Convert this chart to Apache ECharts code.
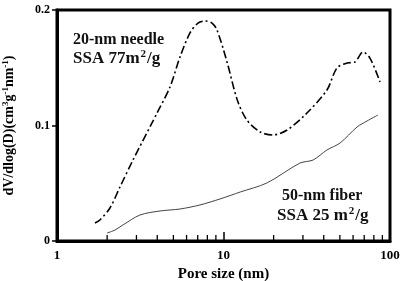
<!DOCTYPE html>
<html>

<head>
  <meta charset="utf-8" />
  <script src="https://cdn.jsdelivr.net/npm/echarts@6/dist/echarts.min.js"></script>
</head>

<body style="margin:0">
  <div id="main" style="width: 400px;height:281px;"></div>
  <script type="text/javascript">
    // pore size (nm) and dV/dlog(D)
    var needleX = [1.69, 1.81, 2.08, 2.39, 2.86, 3.72, 3.99, 4.77, 5.48, 6.29, 7.03, 7.74, 8.53, 9.14, 10.5, 12.1, 13.8, 16.6, 19.8, 24.1, 31.7, 41.8, 48.0, 55.2, 61.6, 68.8, 75.8, 87.1]
    var needleY = [0.0156, 0.0182, 0.0286, 0.0468, 0.0701, 0.1022, 0.1108, 0.1333, 0.1593, 0.1801, 0.1887, 0.1905, 0.1887, 0.1827, 0.155, 0.1221, 0.1048, 0.0944, 0.0918, 0.0961, 0.1108, 0.1307, 0.1498, 0.1541, 0.155, 0.1636, 0.1584, 0.1377]
    var fiberX = [2.0, 2.23, 2.49, 3.15, 4.16, 5.48, 7.22, 9.53, 12.6, 18.2, 28.8, 34.5, 41.8, 50.1, 63.4, 72.8, 84.7]
    var fiberY = [0.0069, 0.0095, 0.0139, 0.0225, 0.026, 0.0277, 0.0312, 0.0364, 0.0424, 0.0502, 0.0675, 0.0701, 0.0788, 0.0848, 0.0987, 0.1039, 0.1091]
    var minorTicks = [2, 3, 4, 5, 6, 7, 8, 9, 20, 30, 40, 50, 60, 70, 80, 90]

    function pairs(xs, ys) {
      return xs.map(function (x, i) { return [x, ys[i]] })
    }

    var serif = '"Liberation Serif", "Times New Roman", serif'
    var myChart = echarts.init(document.getElementById('main'));

    var option = {
      backgroundColor: '#fff',
      animation: false,
      grid: {
        left: 57, right: 10, top: 10, bottom: 40,
        outerBoundsMode: 'none',
        show: true, borderColor: '#000', borderWidth: 3
      },
      xAxis: {
        type: 'log', min: 1, max: 100, logBase: 10,
        name: 'Pore size (nm)', nameLocation: 'middle', nameGap: 25,
        nameTextStyle: { fontFamily: serif, fontWeight: 'bold', fontSize: 15, color: '#000' },
        axisLine: { lineStyle: { color: '#000', width: 3 } },
        axisTick: { inside: true, length: 9, lineStyle: { color: '#000', width: 1.5 } },
        axisLabel: { fontFamily: serif, fontWeight: 'bold', fontSize: 13, color: '#000', margin: 8 },
        splitLine: { show: false }
      },
      yAxis: {
        type: 'value', min: 0, max: 0.2, interval: 0.1,
        name: 'dV/dlog(D)(cm{s|3}g{s|-1}nm{s|-1})', nameLocation: 'middle', nameGap: 40,
        nameTextStyle: {
          fontFamily: serif, fontWeight: 'bold', fontSize: 14, color: '#000',
          rich: { s: { fontFamily: serif, fontWeight: 'bold', fontSize: 9, color: '#000', verticalAlign: 'top', padding: [0, 0, 7, 0] } }
        },
        axisLine: { lineStyle: { color: '#000', width: 3 } },
        axisTick: { length: 5, lineStyle: { color: '#000', width: 1.5 } },
        axisLabel: {
          fontFamily: serif, fontWeight: 'bold', fontSize: 12, color: '#000', margin: 7,
          formatter: function (v) { return v === 0 ? '0' : v.toFixed(1) }
        },
        splitLine: { show: false }
      },
      graphic: [
        { type: 'text', left: 73, top: 32, style: { text: '20-nm needle', font: 'bold 16px ' + serif, fill: '#111' } },
        {
          type: 'text', left: 73, top: 49, style: {
            text: 'SSA 77m{s|2}/g', font: 'bold 17px ' + serif, fill: '#111',
            rich: { s: { font: 'bold 11px ' + serif, fill: '#111', verticalAlign: 'top', padding: [0, 1, 8, 1] } }
          }
        },
        { type: 'text', left: 282, top: 188, style: { text: '50-nm fiber', font: 'bold 16px ' + serif, fill: '#111' } },
        {
          type: 'text', left: 277, top: 206, style: {
            text: 'SSA 25 m{s|2}/g', font: 'bold 17px ' + serif, fill: '#111',
            rich: { s: { font: 'bold 11px ' + serif, fill: '#111', verticalAlign: 'top', padding: [0, 1, 8, 1] } }
          }
        }
      ],
      series: [
        {
          name: '20-nm needle', type: 'line', showSymbol: false, smooth: 0.3,
          data: pairs(needleX, needleY),
          lineStyle: { color: '#000', width: 1.6, type: [8, 3, 2, 3] }
        },
        {
          name: '50-nm fiber', type: 'line', showSymbol: false, smooth: 0.3,
          data: pairs(fiberX, fiberY),
          lineStyle: { color: '#444', width: 1 }
        },
        {
          // minor ticks on the log axis, inward
          type: 'custom', silent: true, z: 5,
          data: minorTicks.map(function (v) { return [v, 0] }),
          renderItem: function (params, api) {
            var p = api.coord([api.value(0), 0])
            return {
              type: 'line',
              shape: { x1: p[0], y1: p[1], x2: p[0], y2: p[1] - 6 },
              style: { stroke: '#000', lineWidth: 1.3 }
            }
          }
        }
      ]
    };

    myChart.setOption(option);
  </script>
</body>

</html>
